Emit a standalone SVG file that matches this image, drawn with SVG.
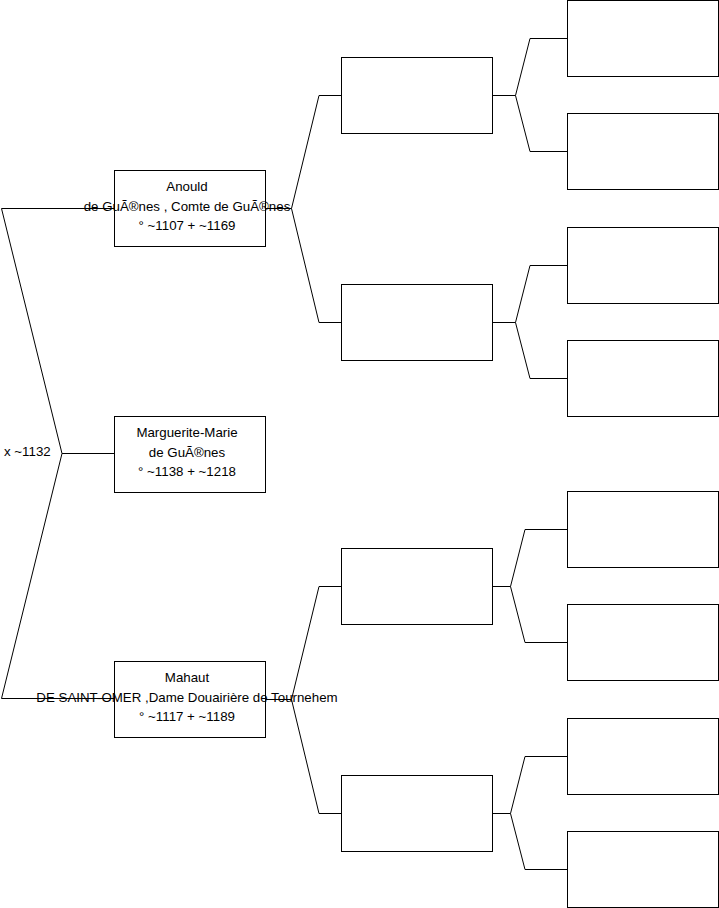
<svg xmlns="http://www.w3.org/2000/svg" width="719" height="908" viewBox="0 0 719 908">
<style>
.box{fill:#fff;stroke:#000;stroke-width:1}
.c{fill:none;stroke:#000;stroke-width:1}
text{font-family:"Liberation Sans",Arial,sans-serif;font-size:13.3px;fill:#000}
.m{text-anchor:middle}
</style>
<rect width="719" height="908" fill="#fff"/>
<g id="nodes">
<g id="n-anould"><rect class="box" x="114.5" y="170.5" width="151" height="76"/>
<text class="m" x="187" y="191">Anould</text>
<text class="m" x="187" y="211">de GuÃ®nes , Comte de GuÃ®nes</text>
<text class="m" x="187" y="230">° ~1107 + ~1169</text></g>
<g id="n-marguerite"><rect class="box" x="114.5" y="416.5" width="151" height="76"/>
<text class="m" x="187" y="437">Marguerite-Marie</text>
<text class="m" x="187" y="457">de GuÃ®nes</text>
<text class="m" x="187" y="476">° ~1138 + ~1218</text></g>
<g id="n-mahaut"><rect class="box" x="114.5" y="661.5" width="151" height="76"/>
<text class="m" x="187" y="682">Mahaut</text>
<text class="m" x="187" y="702">DE SAINT-OMER ,Dame Douairière de Tournehem</text>
<text class="m" x="187" y="721">° ~1117 + ~1189</text></g>
<g id="n-f"><rect class="box" x="341.5" y="57.5" width="151" height="76"/></g>
<g id="n-m"><rect class="box" x="341.5" y="284.5" width="151" height="76"/></g>
<g id="n-mf"><rect class="box" x="341.5" y="548.5" width="151" height="76"/></g>
<g id="n-mm"><rect class="box" x="341.5" y="775.5" width="151" height="76"/></g>
<g id="n-ff"><rect class="box" x="567.5" y="0.5" width="151" height="76"/></g>
<g id="n-fm"><rect class="box" x="567.5" y="113.5" width="151" height="76"/></g>
<g id="n-mff"><rect class="box" x="567.5" y="227.5" width="151" height="76"/></g>
<g id="n-mfm"><rect class="box" x="567.5" y="340.5" width="151" height="76"/></g>
<g id="n-mmf"><rect class="box" x="567.5" y="491.5" width="151" height="76"/></g>
<g id="n-mmm"><rect class="box" x="567.5" y="604.5" width="151" height="76"/></g>
<g id="n-mmff"><rect class="box" x="567.5" y="718.5" width="151" height="76"/></g>
<g id="n-mmfm"><rect class="box" x="567.5" y="831.5" width="151" height="76"/></g>
</g>
<g id="connectors">
<path class="c" d="M114,208.5 H1.5 L62,453.5 L1.5,698.5 H114 M62,453.5 H114"/>
<path class="c" d="M265,208.5 H291.5 L319,95.5 H341 M291.5,208.5 L319,322.5 H341"/>
<path class="c" d="M265,699.5 H291.5 L319,586.5 H341 M291.5,699.5 L319,813.5 H341"/>
<path class="c" d="M492,95.5 H515.5 L530,38.5 H567 M515.5,95.5 L530,151.5 H567"/>
<path class="c" d="M492,322.5 H515.5 L530,265.5 H567 M515.5,322.5 L530,378.5 H567"/>
<path class="c" d="M492,586.5 H510.5 L525,529.5 H567 M510.5,586.5 L525,642.5 H567"/>
<path class="c" d="M492,813.5 H510.5 L525,756.5 H567 M510.5,813.5 L525,869.5 H567"/>
</g>
<text x="4" y="456">x ~1132</text>
</svg>
